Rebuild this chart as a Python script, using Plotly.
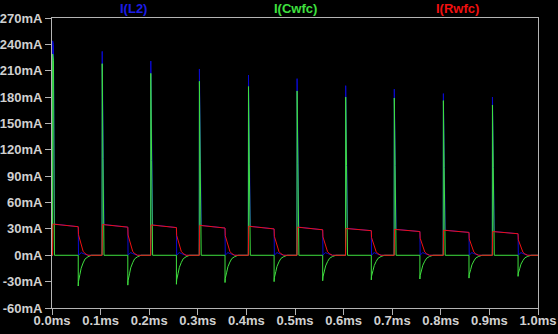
import plotly.graph_objects as go

# ---- data (time in ms, current in mA) ----
pulse_start_ms = [0.001, 0.103, 0.203, 0.303, 0.404, 0.504, 0.604, 0.704, 0.805, 0.906]
on_duration_ms = 0.053
green_peak_mA = [229, 218, 207, 198, 192, 187, 180, 179, 176, 171]
green_mid_mA = [222, 110, 108, 106, 104, 104, 102, 102, 100, 100]
blue_peak_mA = [244, 232, 221, 212, 205, 201, 193, 189, 184, 180]
blue_mid_mA = [240, 138, 130, 128, 126, 124, 122, 122, 122, 124]
red_start_mA = [35.5, 35, 34.5, 34, 33, 32, 30.5, 29.5, 28.5, 27]
red_end_mA = [32.5, 32, 31.5, 31, 30, 29, 28, 27, 26, 24.5]
green_neg_mA = [-35, -34, -33, -31, -30, -29, -28, -27, -26, -24]
tail_dt_ms = [0, 0.0005, 0.0035, 0.006, 0.01, 0.014, 0.02, 0.027]
red_tail_frac = [1, 0.72, 0.56, 0.38, 0.14, 0.06, 0.0, 0.0]
green_tail_frac = [1, 0.85, 0.62, 0.42, 0.25, 0.12, 0.05, 0.0]
blue_tail_mA = [0, 0, 2, 3, 2, 1, 0, 0]

x_tick_vals = [0.0, 0.1, 0.2, 0.3, 0.4, 0.5, 0.6, 0.7, 0.8, 0.9, 1.0]
x_tick_text = ["0.0ms", "0.1ms", "0.2ms", "0.3ms", "0.4ms", "0.5ms", "0.6ms", "0.7ms", "0.8ms", "0.9ms", "1.0ms"]
y_tick_vals = [-60, -30, 0, 30, 60, 90, 120, 150, 180, 210, 240, 270]
y_tick_text = ["-60mA", "-30mA", "0mA", "30mA", "60mA", "90mA", "120mA", "150mA", "180mA", "210mA", "240mA", "270mA"]
trace_names = ["I(L2)", "I(Cwfc)", "I(Rwfc)"]

# ---- assemble waveforms from the read values ----
gx, gy, bx, by, rx, ry = [0.0], [0.0], [0.0], [0.0], [0.0], [0.0]
for i, t0 in enumerate(pulse_start_ms):
    toff = t0 + on_duration_ms
    # capacitor current
    gx += [t0, t0 + 0.0003, t0 + 0.002, t0 + 0.004, toff]
    gy += [0, green_peak_mA[i], green_mid_mA[i], 0, 0]
    for dt, f in zip(tail_dt_ms, green_tail_frac):
        gx.append(toff + dt)
        gy.append(green_neg_mA[i] * f)
    # inductor current
    bx += [t0, t0 + 0.0003, t0 + 0.002, t0 + 0.004, toff]
    by += [0, blue_peak_mA[i], blue_mid_mA[i], red_start_mA[i], red_end_mA[i]]
    for dt, v in zip(tail_dt_ms[1:], blue_tail_mA[1:]):
        bx.append(toff + dt)
        by.append(v)
    # resistor current
    rx += [t0, t0 + 0.0008, toff]
    ry += [0, red_start_mA[i], red_end_mA[i]]
    for dt, f in zip(tail_dt_ms, red_tail_frac):
        rx.append(toff + dt)
        ry.append(red_end_mA[i] * f)
gx.append(1.0); gy.append(0)
bx.append(1.0); by.append(0)
rx.append(1.0); ry.append(0)

colors = ["#0a0ad2", "#3fe03f", "#f01010"]
title_colors = ["#1c1ce6", "#3fe03f", "#f01010"]
font_family = "Liberation Sans, Arial"

fig = go.Figure()
for xs, ys, name, c in [(bx, by, trace_names[0], colors[0]),
                        (gx, gy, trace_names[1], colors[1]),
                        (rx, ry, trace_names[2], colors[2])]:
    fig.add_trace(go.Scatter(x=xs, y=ys, mode="lines", name=name,
                             line=dict(color=c, width=1), showlegend=False))

for k, name in enumerate(trace_names):
    fig.add_annotation(text="<b>" + name + "</b>", x=(2 * k + 1) / 6, y=1.0, xref="paper", yref="paper",
                       xanchor="center", yanchor="bottom", yshift=0, showarrow=False,
                       font=dict(family=font_family, size=13, color=title_colors[k]))

axis_common = dict(showgrid=False, zeroline=False, showline=True, mirror=True, automargin=False,
                   linecolor="#b4b4b4", linewidth=1, ticks="outside", ticklen=6,
                   tickcolor="#b4b4b4", tickwidth=1, ticklabeloverflow="allow",
                   tickfont=dict(family=font_family, size=13, color="#d0d0d0", weight="bold"))

fig.update_xaxes(range=[0, 1.0], tickvals=x_tick_vals, ticktext=x_tick_text,
                 ticklabelstandoff=-6, **axis_common)
fig.update_yaxes(range=[-60, 270], tickvals=y_tick_vals, ticktext=y_tick_text, **axis_common)

fig.update_layout(width=558, height=334, paper_bgcolor="black", plot_bgcolor="black",
                  margin=dict(l=52, r=20, t=18, b=26), showlegend=False)

fig.write_html("out.html")
